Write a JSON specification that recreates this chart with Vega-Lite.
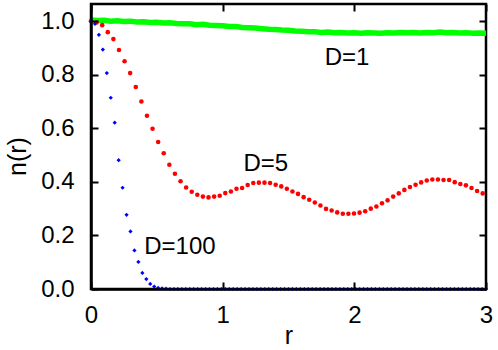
{
  "$schema": "https://vega.github.io/schema/vega-lite/v6.json",
  "width": 395,
  "height": 285,
  "autosize": "none",
  "padding": {"left": 91, "top": 4, "right": 12, "bottom": 61},
  "background": "white",
  "config": {
    "view": {"stroke": "black", "strokeWidth": 2.5},
    "font": "Liberation Sans"
  },
  "datasets": {
    "green": [
      {"r": 0.00, "n": 1.004}, {"r": 0.05, "n": 1.002}, {"r": 0.10, "n": 1.003}, {"r": 0.15, "n": 1.000},
      {"r": 0.20, "n": 1.001}, {"r": 0.25, "n": 0.999}, {"r": 0.30, "n": 1.000}, {"r": 0.35, "n": 0.997},
      {"r": 0.40, "n": 0.998}, {"r": 0.45, "n": 0.995}, {"r": 0.50, "n": 0.996}, {"r": 0.55, "n": 0.993},
      {"r": 0.60, "n": 0.994}, {"r": 0.65, "n": 0.991}, {"r": 0.70, "n": 0.990}, {"r": 0.75, "n": 0.990},
      {"r": 0.80, "n": 0.987}, {"r": 0.85, "n": 0.988}, {"r": 0.90, "n": 0.985}, {"r": 0.95, "n": 0.984},
      {"r": 1.00, "n": 0.983}, {"r": 1.05, "n": 0.980}, {"r": 1.10, "n": 0.980}, {"r": 1.15, "n": 0.976},
      {"r": 1.20, "n": 0.975}, {"r": 1.25, "n": 0.974}, {"r": 1.30, "n": 0.972}, {"r": 1.35, "n": 0.970},
      {"r": 1.40, "n": 0.969}, {"r": 1.45, "n": 0.967}, {"r": 1.50, "n": 0.966}, {"r": 1.55, "n": 0.963},
      {"r": 1.60, "n": 0.962}, {"r": 1.65, "n": 0.960}, {"r": 1.70, "n": 0.960}, {"r": 1.75, "n": 0.958},
      {"r": 1.80, "n": 0.959}, {"r": 1.85, "n": 0.957}, {"r": 1.90, "n": 0.958}, {"r": 1.95, "n": 0.956},
      {"r": 2.00, "n": 0.957}, {"r": 2.05, "n": 0.955}, {"r": 2.10, "n": 0.957}, {"r": 2.15, "n": 0.956},
      {"r": 2.20, "n": 0.955}, {"r": 2.25, "n": 0.957}, {"r": 2.30, "n": 0.956}, {"r": 2.35, "n": 0.958},
      {"r": 2.40, "n": 0.957}, {"r": 2.45, "n": 0.958}, {"r": 2.50, "n": 0.956}, {"r": 2.55, "n": 0.958},
      {"r": 2.60, "n": 0.957}, {"r": 2.65, "n": 0.959}, {"r": 2.70, "n": 0.957}, {"r": 2.75, "n": 0.958},
      {"r": 2.80, "n": 0.956}, {"r": 2.85, "n": 0.957}, {"r": 2.90, "n": 0.955}, {"r": 2.95, "n": 0.956},
      {"r": 3.00, "n": 0.955}
    ],
    "red": [
      {"r": 0.000, "n": 1.000}, {"r": 0.0425, "n": 0.995}, {"r": 0.085, "n": 0.985}, {"r": 0.1275, "n": 0.959},
      {"r": 0.170, "n": 0.933}, {"r": 0.2125, "n": 0.892}, {"r": 0.255, "n": 0.850}, {"r": 0.2975, "n": 0.806},
      {"r": 0.340, "n": 0.754}, {"r": 0.3825, "n": 0.700}, {"r": 0.425, "n": 0.647}, {"r": 0.4675, "n": 0.598},
      {"r": 0.510, "n": 0.549}, {"r": 0.5525, "n": 0.507}, {"r": 0.595, "n": 0.464}, {"r": 0.6375, "n": 0.430},
      {"r": 0.680, "n": 0.402}, {"r": 0.7225, "n": 0.379}, {"r": 0.765, "n": 0.363}, {"r": 0.8075, "n": 0.352},
      {"r": 0.850, "n": 0.345}, {"r": 0.8925, "n": 0.342}, {"r": 0.935, "n": 0.345}, {"r": 0.9775, "n": 0.348},
      {"r": 1.020, "n": 0.358}, {"r": 1.0625, "n": 0.364}, {"r": 1.105, "n": 0.374}, {"r": 1.1475, "n": 0.377},
      {"r": 1.190, "n": 0.388}, {"r": 1.2325, "n": 0.396}, {"r": 1.275, "n": 0.397}, {"r": 1.3175, "n": 0.397},
      {"r": 1.360, "n": 0.396}, {"r": 1.4025, "n": 0.389}, {"r": 1.445, "n": 0.383}, {"r": 1.4875, "n": 0.374},
      {"r": 1.530, "n": 0.364}, {"r": 1.5725, "n": 0.355}, {"r": 1.615, "n": 0.343}, {"r": 1.6575, "n": 0.333},
      {"r": 1.700, "n": 0.323}, {"r": 1.7425, "n": 0.312}, {"r": 1.785, "n": 0.299}, {"r": 1.8275, "n": 0.293},
      {"r": 1.870, "n": 0.286}, {"r": 1.9125, "n": 0.281}, {"r": 1.955, "n": 0.281}, {"r": 1.9975, "n": 0.282},
      {"r": 2.040, "n": 0.285}, {"r": 2.0825, "n": 0.290}, {"r": 2.125, "n": 0.300}, {"r": 2.1675, "n": 0.308},
      {"r": 2.210, "n": 0.320}, {"r": 2.2525, "n": 0.331}, {"r": 2.295, "n": 0.345}, {"r": 2.3375, "n": 0.357},
      {"r": 2.380, "n": 0.370}, {"r": 2.4225, "n": 0.381}, {"r": 2.465, "n": 0.389}, {"r": 2.5075, "n": 0.398},
      {"r": 2.550, "n": 0.405}, {"r": 2.5925, "n": 0.409}, {"r": 2.635, "n": 0.409}, {"r": 2.6775, "n": 0.407},
      {"r": 2.720, "n": 0.407}, {"r": 2.7625, "n": 0.399}, {"r": 2.805, "n": 0.392}, {"r": 2.8475, "n": 0.387},
      {"r": 2.890, "n": 0.377}, {"r": 2.9325, "n": 0.366}, {"r": 2.975, "n": 0.357}
    ],
    "blue": [
      {"r": 0.00, "n": 1.000}, {"r": 0.03, "n": 0.990}, {"r": 0.06, "n": 0.949}, {"r": 0.09, "n": 0.894},
      {"r": 0.12, "n": 0.806}, {"r": 0.15, "n": 0.714}, {"r": 0.18, "n": 0.621}, {"r": 0.21, "n": 0.481},
      {"r": 0.24, "n": 0.378}, {"r": 0.27, "n": 0.277}, {"r": 0.30, "n": 0.215}, {"r": 0.33, "n": 0.144},
      {"r": 0.36, "n": 0.101}, {"r": 0.39, "n": 0.060}, {"r": 0.42, "n": 0.037}, {"r": 0.45, "n": 0.019},
      {"r": 0.48, "n": 0.009}, {"r": 0.51, "n": 0.004}, {"r": 0.54, "n": 0.002}, {"r": 0.57, "n": 0.001},
      {"r": 0.60, "n": 0.0}, {"r": 0.63, "n": 0.0}, {"r": 0.66, "n": 0.0}, {"r": 0.69, "n": 0.0},
      {"r": 0.72, "n": 0.0}, {"r": 0.75, "n": 0.0}, {"r": 0.78, "n": 0.0}, {"r": 0.81, "n": 0.0},
      {"r": 0.84, "n": 0.0}, {"r": 0.87, "n": 0.0}, {"r": 0.90, "n": 0.0}, {"r": 0.93, "n": 0.0},
      {"r": 0.96, "n": 0.0}, {"r": 0.99, "n": 0.0}, {"r": 1.02, "n": 0.0}, {"r": 1.05, "n": 0.0},
      {"r": 1.08, "n": 0.0}, {"r": 1.11, "n": 0.0}, {"r": 1.14, "n": 0.0}, {"r": 1.17, "n": 0.0},
      {"r": 1.20, "n": 0.0}, {"r": 1.23, "n": 0.0}, {"r": 1.26, "n": 0.0}, {"r": 1.29, "n": 0.0},
      {"r": 1.32, "n": 0.0}, {"r": 1.35, "n": 0.0}, {"r": 1.38, "n": 0.0}, {"r": 1.41, "n": 0.0},
      {"r": 1.44, "n": 0.0}, {"r": 1.47, "n": 0.0}, {"r": 1.50, "n": 0.0}, {"r": 1.53, "n": 0.0},
      {"r": 1.56, "n": 0.0}, {"r": 1.59, "n": 0.0}, {"r": 1.62, "n": 0.0}, {"r": 1.65, "n": 0.0},
      {"r": 1.68, "n": 0.0}, {"r": 1.71, "n": 0.0}, {"r": 1.74, "n": 0.0}, {"r": 1.77, "n": 0.0},
      {"r": 1.80, "n": 0.0}, {"r": 1.83, "n": 0.0}, {"r": 1.86, "n": 0.0}, {"r": 1.89, "n": 0.0},
      {"r": 1.92, "n": 0.0}, {"r": 1.95, "n": 0.0}, {"r": 1.98, "n": 0.0}, {"r": 2.01, "n": 0.0},
      {"r": 2.04, "n": 0.0}, {"r": 2.07, "n": 0.0}, {"r": 2.10, "n": 0.0}, {"r": 2.13, "n": 0.0},
      {"r": 2.16, "n": 0.0}, {"r": 2.19, "n": 0.0}, {"r": 2.22, "n": 0.0}, {"r": 2.25, "n": 0.0},
      {"r": 2.28, "n": 0.0}, {"r": 2.31, "n": 0.0}, {"r": 2.34, "n": 0.0}, {"r": 2.37, "n": 0.0},
      {"r": 2.40, "n": 0.0}, {"r": 2.43, "n": 0.0}, {"r": 2.46, "n": 0.0}, {"r": 2.49, "n": 0.0},
      {"r": 2.52, "n": 0.0}, {"r": 2.55, "n": 0.0}, {"r": 2.58, "n": 0.0}, {"r": 2.61, "n": 0.0},
      {"r": 2.64, "n": 0.0}, {"r": 2.67, "n": 0.0}, {"r": 2.70, "n": 0.0}, {"r": 2.73, "n": 0.0},
      {"r": 2.76, "n": 0.0}, {"r": 2.79, "n": 0.0}, {"r": 2.82, "n": 0.0}, {"r": 2.85, "n": 0.0},
      {"r": 2.88, "n": 0.0}, {"r": 2.91, "n": 0.0}, {"r": 2.94, "n": 0.0}, {"r": 2.97, "n": 0.0},
      {"r": 3.00, "n": 0.0}
    ],
    "labels": [
      {"r": 1.775, "n": 0.863, "label": "D=1"},
      {"r": 1.158, "n": 0.468, "label": "D=5"},
      {"r": 0.404, "n": 0.156, "label": "D=100"}
    ]
  },
  "encoding": {
    "x": {"field": "r", "type": "quantitative",
          "scale": {"domain": [0, 3], "nice": false, "zero": false},
          "axis": {"orient": "bottom", "title": "r", "values": [0, 1, 2, 3], "format": "d", "zindex": 1,
                   "ticks": false, "grid": true, "gridDash": [7, 271, 7, 1000], "gridColor": "black", "gridOpacity": 1, "gridWidth": 2,
                   "domainColor": "black", "domainWidth": 2.5,
                   "labelFont": "Liberation Sans", "labelFontSize": 24, "labelColor": "black",
                   "titleFont": "Liberation Sans", "titleFontSize": 25, "titleFontWeight": "normal", "titleColor": "black",
                   "labelPadding": 14, "titleY": 46, "titleBaseline": "middle", "labelFlush": false}},
    "y": {"field": "n", "type": "quantitative",
          "scale": {"domain": [0, 1.064], "nice": false, "zero": false},
          "axis": {"orient": "left", "title": "n(r)", "values": [0, 0.2, 0.4, 0.6, 0.8, 1.0], "format": ".1f", "zindex": 1,
                   "ticks": false, "grid": true, "gridDash": [7, 381, 7, 1000], "gridColor": "black", "gridOpacity": 1, "gridWidth": 2,
                   "domainColor": "black", "domainWidth": 2.5,
                   "labelFont": "Liberation Sans", "labelFontSize": 24, "labelColor": "black",
                   "titleFont": "Liberation Sans", "titleFontSize": 25, "titleFontWeight": "normal", "titleColor": "black",
                   "labelPadding": 17, "titleX": -74, "titleY": 152, "titleAngle": -90,
                   "titleAlign": "center", "titleBaseline": "middle"}}
  },
  "layer": [
    {
      "data": {"name": "green"},
      "mark": {"type": "line", "color": "#00ff00", "strokeWidth": 5.5, "clip": true}
    },
    {
      "data": {"name": "red"},
      "mark": {"type": "circle", "color": "#ff0000", "opacity": 1, "size": 21}
    },
    {
      "data": {"name": "blue"},
      "mark": {"type": "point", "shape": "diamond", "filled": true, "color": "#0000ff", "opacity": 1, "size": 18}
    },
    {
      "data": {"name": "labels"},
      "mark": {"type": "text", "align": "left", "baseline": "middle", "font": "Liberation Sans", "fontSize": 24, "color": "black"},
      "encoding": {"text": {"field": "label"}}
    }
  ]
}
